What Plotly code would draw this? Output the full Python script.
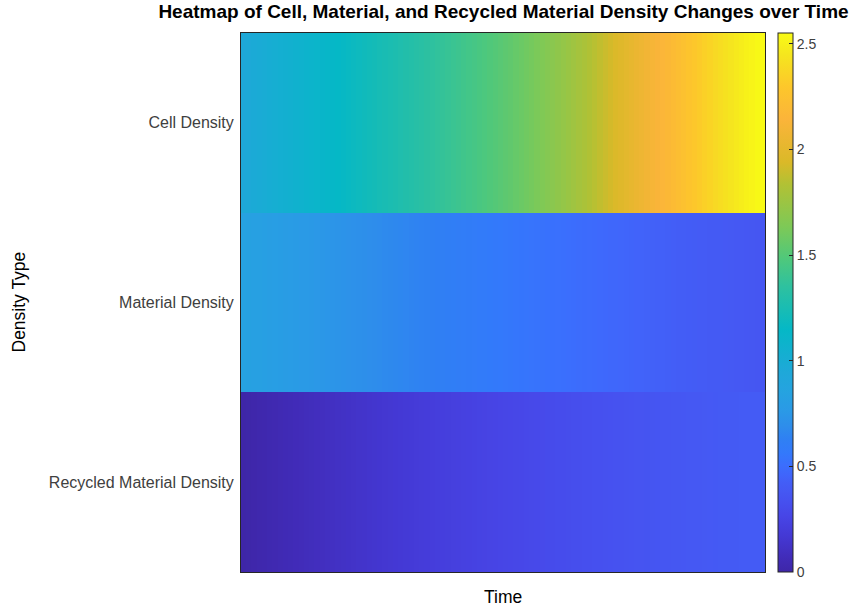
import plotly.graph_objects as go

# Simulation output: 100 time steps per density series
time_steps = list(range(1, 101))
density_types = ["Recycled Material Density", "Material Density", "Cell Density"]

cell_density = [
    0.950, 0.961, 0.972, 0.983, 0.994, 1.005, 1.016, 1.027, 1.038, 1.049,
    1.060, 1.071, 1.082, 1.093, 1.104, 1.115, 1.126, 1.137, 1.148, 1.159,
    1.170, 1.181, 1.192, 1.203, 1.214, 1.225, 1.236, 1.247, 1.258, 1.269,
    1.280, 1.292, 1.304, 1.316, 1.328, 1.340, 1.352, 1.364, 1.376, 1.388,
    1.400, 1.412, 1.424, 1.436, 1.448, 1.460, 1.473, 1.486, 1.500, 1.514,
    1.528, 1.543, 1.558, 1.574, 1.590, 1.607, 1.625, 1.643, 1.662, 1.681,
    1.701, 1.721, 1.742, 1.763, 1.785, 1.807, 1.829, 1.852, 1.875, 1.898,
    1.921, 1.945, 1.969, 1.993, 2.017, 2.041, 2.064, 2.087, 2.110, 2.133,
    2.156, 2.179, 2.202, 2.225, 2.248, 2.271, 2.294, 2.317, 2.340, 2.361,
    2.383, 2.403, 2.424, 2.443, 2.463, 2.481, 2.500, 2.517, 2.535, 2.551,
]

material_density = [
    0.840, 0.834, 0.827, 0.821, 0.814, 0.808, 0.802, 0.795, 0.789, 0.783,
    0.777, 0.770, 0.764, 0.758, 0.752, 0.746, 0.740, 0.734, 0.728, 0.723,
    0.717, 0.711, 0.705, 0.700, 0.694, 0.688, 0.683, 0.677, 0.672, 0.666,
    0.661, 0.655, 0.650, 0.644, 0.639, 0.634, 0.629, 0.623, 0.618, 0.613,
    0.608, 0.603, 0.598, 0.593, 0.588, 0.583, 0.578, 0.573, 0.568, 0.564,
    0.559, 0.554, 0.549, 0.545, 0.540, 0.536, 0.531, 0.527, 0.522, 0.518,
    0.513, 0.509, 0.505, 0.500, 0.496, 0.492, 0.488, 0.483, 0.479, 0.475,
    0.471, 0.467, 0.463, 0.459, 0.455, 0.452, 0.448, 0.444, 0.440, 0.437,
    0.433, 0.429, 0.426, 0.422, 0.419, 0.415, 0.412, 0.408, 0.405, 0.401,
    0.398, 0.395, 0.392, 0.388, 0.385, 0.382, 0.379, 0.376, 0.373, 0.370,
]

recycled_density = [
    0.000, 0.006, 0.013, 0.019, 0.026, 0.032, 0.038, 0.044, 0.051, 0.057,
    0.063, 0.069, 0.075, 0.081, 0.087, 0.092, 0.098, 0.104, 0.110, 0.115,
    0.121, 0.126, 0.132, 0.137, 0.143, 0.148, 0.153, 0.159, 0.164, 0.169,
    0.174, 0.179, 0.184, 0.189, 0.194, 0.199, 0.204, 0.209, 0.213, 0.218,
    0.223, 0.227, 0.232, 0.236, 0.241, 0.245, 0.249, 0.254, 0.258, 0.262,
    0.266, 0.270, 0.274, 0.278, 0.282, 0.286, 0.290, 0.294, 0.298, 0.301,
    0.305, 0.309, 0.312, 0.316, 0.319, 0.323, 0.326, 0.329, 0.333, 0.336,
    0.339, 0.342, 0.345, 0.348, 0.351, 0.354, 0.357, 0.360, 0.363, 0.366,
    0.368, 0.371, 0.374, 0.376, 0.379, 0.381, 0.384, 0.386, 0.388, 0.391,
    0.393, 0.395, 0.397, 0.399, 0.401, 0.403, 0.405, 0.407, 0.409, 0.411,
]

colorbar_ticks = [0, 0.5, 1, 1.5, 2, 2.5]
colorbar_labels = ["0", "0.5", "1", "1.5", "2", "2.5"]

# Parula-style colour map
parula = [
    [0.000, "#3e26a8"], [0.027, "#412cb9"], [0.068, "#4439d5"],
    [0.103, "#4745e6"], [0.130, "#4650ef"], [0.150, "#4558f3"],
    [0.165, "#435df6"], [0.180, "#4065fb"], [0.200, "#3a6ffd"],
    [0.221, "#3379fb"], [0.247, "#2f80f3"], [0.270, "#2e8deb"],
    [0.300, "#2a9ae6"], [0.335, "#25a3e0"], [0.370, "#1fa8d9"],
    [0.450, "#05b8c6"], [0.530, "#2ec19f"], [0.580, "#4ec87c"],
    [0.640, "#7dc957"], [0.720, "#b2c134"], [0.760, "#dab928"],
    [0.840, "#fbb43a"], [0.900, "#fdc72b"], [0.960, "#f5e61e"],
    [1.000, "#f9fb15"],
]

z = [recycled_density, material_density, cell_density]
zmin = min(min(row) for row in z)
zmax = max(max(row) for row in z)

W, H = 855, 608
L, R, T, B = 241, 765, 33, 572
plot_w, plot_h = R - L, B - T
FONT = "Liberation Sans, Arial, sans-serif"

fig = go.Figure(
    go.Heatmap(
        z=z,
        x=time_steps,
        y=density_types,
        colorscale=parula,
        zmin=zmin,
        zmax=zmax,
        colorbar=dict(
            x=1 + (778 - R) / plot_w,
            xanchor="left",
            xpad=0,
            ypad=0,
            y=0.5,
            yanchor="middle",
            len=1,
            lenmode="fraction",
            thickness=15,
            thicknessmode="pixels",
            outlinewidth=1,
            outlinecolor="#262626",
            tickvals=colorbar_ticks,
            ticktext=colorbar_labels,
            ticks="inside",
            ticklen=4,
            tickcolor="#262626",
            tickfont=dict(family=FONT, size=14, color="#404040"),
        ),
    )
)

fig.update_layout(
    width=W,
    height=H,
    margin=dict(l=L, r=W - R, t=T, b=H - B, pad=0),
    paper_bgcolor="white",
    plot_bgcolor="white",
    font=dict(family=FONT, color="#262626"),
    title=dict(
        text="<b>Heatmap of Cell, Material, and Recycled Material Density Changes over Time</b>",
        x=(155 + 852) / 2 / W,
        xanchor="center",
        y=1 - 11 / H,
        yanchor="middle",
        font=dict(size=19, color="#000000"),
    ),
    xaxis=dict(
        range=[0.5, 100.5],
        showticklabels=False,
        ticks="",
        showgrid=False,
        zeroline=False,
        showline=True,
        mirror=True,
        linecolor="#262626",
        linewidth=1,
    ),
    yaxis=dict(
        ticks="",
        showgrid=False,
        zeroline=False,
        showline=True,
        mirror=True,
        linecolor="#262626",
        linewidth=1,
        ticklabelstandoff=3,
        tickfont=dict(size=16, color="#404040"),
    ),
    annotations=[
        dict(
            text="Time",
            xref="paper", yref="paper",
            x=0.5, y=0,
            xanchor="center", yanchor="middle",
            yshift=-(597 - B),
            showarrow=False,
            font=dict(size=17.5, color="#000000"),
        ),
        dict(
            text="Density Type",
            xref="paper", yref="paper",
            x=0, y=0.5,
            xanchor="center", yanchor="middle",
            xshift=-(L - 18),
            textangle=-90,
            showarrow=False,
            font=dict(size=17.5, color="#000000"),
        ),
    ],
)

fig.write_html("out.html")
